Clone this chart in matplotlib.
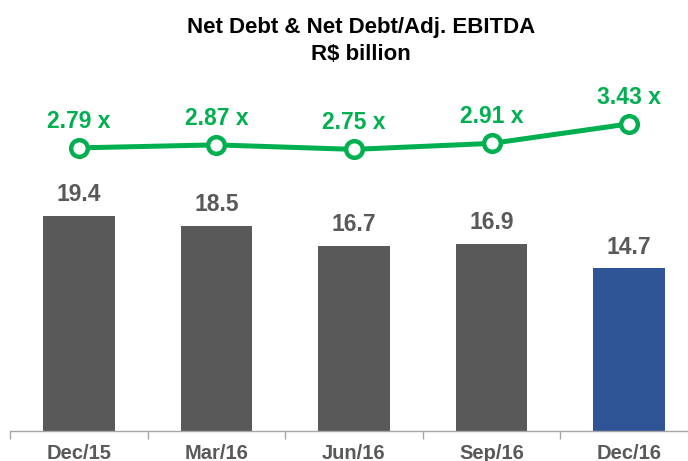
import matplotlib.pyplot as plt
import numpy as np

plt.rcParams['font.family'] = ['Liberation Sans', 'DejaVu Sans']

# данные
quarters = ['Dec/15', 'Mar/16', 'Jun/16', 'Sep/16', 'Dec/16']
net_debt = [19.4, 18.5, 16.7, 16.9, 14.7]
leverage = [2.79, 2.87, 2.75, 2.91, 3.43]

GRAY = '#595959'
BLUE = '#2F5597'
GREEN = '#00B050'

fig = plt.figure(figsize=(6.88, 4.61), dpi=100)
W, H = 688, 461
# ось немного выходит за правый край, как в оригинале
left, right, top, bottom = 10, 698, 80, 431
ax = fig.add_axes([left / W, (H - bottom) / H, (right - left) / W, (bottom - top) / H])

x = np.arange(len(quarters))
colors = [GRAY] * (len(quarters) - 1) + [BLUE]
bars = ax.bar(x, net_debt, width=0.52, color=colors, zorder=2)

for xi, v in zip(x, net_debt):
    ax.annotate(f'{v:.1f}', (xi, v), xytext=(0, 7), textcoords='offset points',
                ha='center', va='bottom', fontsize=16.5, fontweight='bold', color=GRAY)

ax.set_xlim(-0.5, len(quarters) - 0.5)
ax.set_ylim(0, 31.7)
ax.set_yticks([])
for s in ['top', 'right', 'left']:
    ax.spines[s].set_visible(False)
ax.spines['bottom'].set_color('#A6A6A6')
ax.spines['bottom'].set_linewidth(1.0)

ax.set_xticks(np.arange(len(quarters) + 1) - 0.5)
ax.set_xticklabels([])
ax.tick_params(axis='x', which='major', length=6, color='#A6A6A6', width=1.0)
ax.set_xticks(x, minor=True)
ax.set_xticklabels(quarters, minor=True)
ax.tick_params(axis='x', which='minor', length=0, pad=9, labelsize=14.5, labelcolor=GRAY)
for lbl in ax.get_xticklabels(minor=True):
    lbl.set_fontweight('bold')

# вторая ось для Net Debt/EBITDA
ax2 = ax.twinx()
ax2.plot(x, leverage, color=GREEN, linewidth=3.6, marker='o', markersize=12,
         markerfacecolor='white', markeredgecolor=GREEN, markeredgewidth=3.2, zorder=3)
for xi, v in zip(x, leverage):
    ax2.annotate(f'{v:.2f} x', (xi, v), xytext=(0, 11), textcoords='offset points',
                 ha='center', va='bottom', fontsize=16.5, fontweight='bold', color=GREEN)
ax2.set_ylim(-4.76, 4.60)
ax2.set_yticks([])
for s in ['top', 'right', 'left', 'bottom']:
    ax2.spines[s].set_visible(False)

fig.text(361 / W, 1 - 28 / H, 'Net Debt & Net Debt/Adj. EBITDA', ha='center', va='center',
         fontsize=16, fontweight='bold', color='black')
fig.text(361 / W, 1 - 54 / H, 'R$ billion', ha='center', va='center',
         fontsize=16, fontweight='bold', color='black')

fig.savefig('out.png', dpi=100)
